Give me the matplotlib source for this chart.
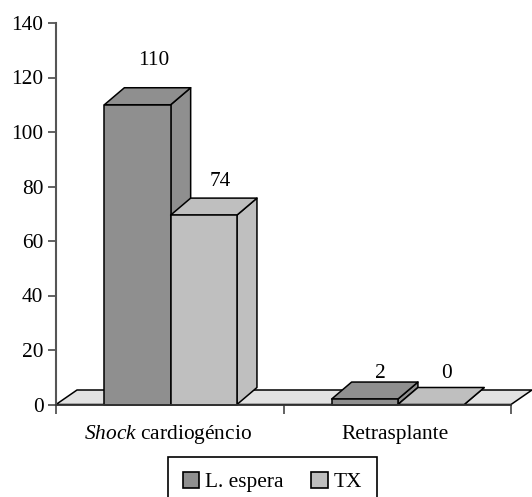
import matplotlib
matplotlib.use("Agg")
import matplotlib.pyplot as plt
from matplotlib.patches import Polygon, Patch

plt.rcParams['font.family'] = ['Liberation Serif', 'DejaVu Serif']
plt.rcParams['mathtext.fontset'] = 'custom'
plt.rcParams['mathtext.rm'] = 'Liberation Serif'
plt.rcParams['mathtext.it'] = 'Liberation Serif:italic'

categories = [r'$\mathit{Shock}$ cardiogéncio', 'Retrasplante']
series_names = ['L. espera', 'TX']
espera = [110, 2]
# the TX bar is drawn lower than its printed label in the source
tx = [69.5, 0]
espera_labels = ['110', '2']
tx_labels = ['74', '0']
yticks = [0, 20, 40, 60, 80, 100, 120, 140]

dark = '#8f8f8f'
light = '#bfbfbf'
floor = '#e2e2e2'
axis_col = '#555555'
fs = 15.4

fig = plt.figure(figsize=(5.32, 4.97), dpi=100)
W, H = 532, 497
left, right, top, bottom = 56, 511, 23, 404.5
ax = fig.add_axes([left / W, 1 - bottom / H, (right - left) / W, (bottom - top) / H])
ax.set_xlim(0, 2)
ax.set_ylim(0, 140)

ux = 2 / (right - left)      # data units per pixel
uy = 140 / (bottom - top)
dx = 20 * ux
dy = 17 * uy
bar_w = 66.3 * ux
centers = [0.504, 1.503]


def box(x0, w, h, col):
    pts = dict(closed=True, fc=col, ec='black', lw=1.1, clip_on=False, joinstyle='round')
    # side, top, then front
    ax.add_patch(Polygon([(x0 + w, 0), (x0 + w + dx, dy), (x0 + w + dx, h + dy), (x0 + w, h)], **pts))
    ax.add_patch(Polygon([(x0, h), (x0 + dx, h + dy), (x0 + w + dx, h + dy), (x0 + w, h)], **pts))
    if h > 0:
        ax.add_patch(Polygon([(x0, 0), (x0 + w, 0), (x0 + w, h), (x0, h)], **pts))


# floor of the 3D box
fd = 14.5 * uy
fx = 21 * ux
ax.add_patch(Polygon([(0, 0), (fx, fd), (2 + fx, fd), (2, 0)], closed=True, fc=floor,
                     ec='black', lw=1.1, clip_on=False))

for c, a, b in zip(centers, espera, tx):
    box(c - bar_w, bar_w, a, dark)
    box(c, bar_w, b, light)

# value labels, offsets in pixels from the middle of each bar's front top edge
offs_a = [(16, 44), (16, 26)]
offs_b = [(16.5, 34), (15, 31.5)]
for i, c in enumerate(centers):
    ax.annotate(espera_labels[i], (c - bar_w / 2, espera[i]), xytext=offs_a[i], textcoords='offset pixels',
                ha='center', va='center', fontsize=fs, annotation_clip=False)
    ax.annotate(tx_labels[i], (c + bar_w / 2, tx[i]), xytext=offs_b[i], textcoords='offset pixels',
                ha='center', va='center', fontsize=fs, annotation_clip=False)

for s in ['top', 'right']:
    ax.spines[s].set_visible(False)
ax.patch.set_visible(False)
ax.spines['left'].set_color(axis_col)
ax.spines['left'].set_linewidth(1.5)
ax.spines['bottom'].set_color('#333333')
ax.spines['bottom'].set_linewidth(1.3)
ax.spines['left'].set_zorder(5)
ax.spines['bottom'].set_zorder(5)

ax.set_yticks(yticks)
ax.tick_params(axis='y', length=6, width=1.3, color=axis_col, labelsize=fs, pad=3)
ax.set_xticks([0, 1, 2])
ax.set_xticklabels([])
ax.tick_params(axis='x', length=6.5, width=1.3, color=axis_col)

for c, name in zip([168, 395], categories):
    ax.text((c - left) * ux, -(434.5 - bottom) * uy, name, ha='center', va='center', fontsize=fs, clip_on=False)

handles = [Patch(fc=dark, ec='black', lw=1.2), Patch(fc=light, ec='black', lw=1.2)]
leg = fig.legend(handles, series_names, loc='upper center', bbox_to_anchor=(272.5 / W, 1 - 457 / H), ncol=2,
                 fontsize=fs, frameon=True, fancybox=False, edgecolor='black', framealpha=1,
                 handlelength=0.75, handleheight=0.75, handletextpad=0.28, columnspacing=1.3,
                 borderpad=0.7, borderaxespad=0)
leg.get_frame().set_linewidth(1.2)

fig.savefig('out.png', dpi=100)
